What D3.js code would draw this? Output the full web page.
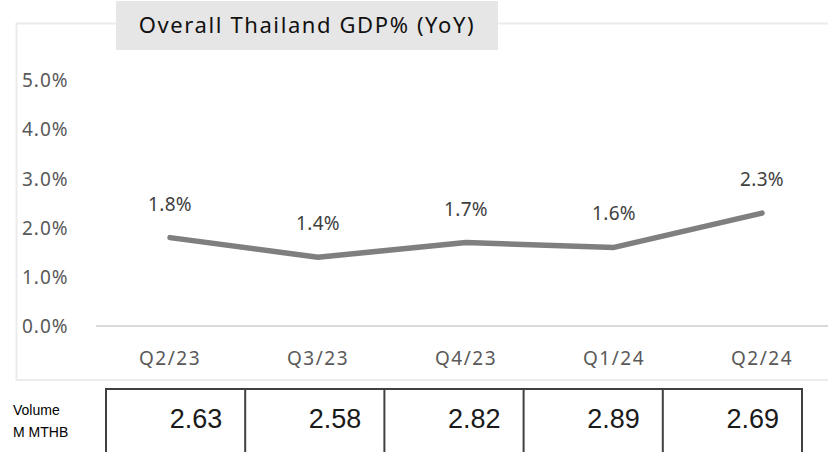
<!DOCTYPE html>
<html><head><meta charset="utf-8">
<script src="https://cdn.jsdelivr.net/npm/d3@7"></script>
<style>
html,body{margin:0;padding:0;background:#fff;}
svg{display:block;}
</style></head>
<body>
<svg id="chart" width="828" height="452"></svg>
<script>
const title = "Overall Thailand GDP% (YoY)";
const categories = ["Q2/23", "Q3/23", "Q4/23", "Q1/24", "Q2/24"];
const gdpValues = [1.8, 1.4, 1.7, 1.6, 2.3];
const yTicks = [0, 1, 2, 3, 4, 5];
const volumeValues = [2.63, 2.58, 2.82, 2.89, 2.69];
const volumeLabel = ["Volume", "M MTHB"];

const svg = d3.select("#chart");

// chart frame
svg.append("rect").attr("x", 16.5).attr("y", 23.5).attr("width", 830).attr("height", 356.5)
  .attr("fill", "none").attr("stroke", "#ebebeb").attr("stroke-width", 2);

// title box
svg.append("rect").attr("x", 116).attr("y", 1).attr("width", 382).attr("height", 49).attr("fill", "#e6e6e6");
svg.append("text").attr("x", 307).attr("y", 33).attr("text-anchor", "middle")
  .attr("font-family", "'Noto Sans', sans-serif").attr("font-size", 22).attr("letter-spacing", 1.6).attr("fill", "#111")
  .text(title);

const x = d3.scalePoint().domain(categories).range([96, 836]).padding(0.5);
const y = d3.scaleLinear().domain([0, 5]).range([326, 80.5]);

// y tick labels
svg.append("g").selectAll("text").data(yTicks).join("text")
  .attr("x", 22).attr("y", d => y(d)).attr("dy", "0.36em")
  .attr("font-family", "'Noto Sans', sans-serif").attr("font-size", 19).attr("letter-spacing", 1).attr("fill", "#595959")
  .text(d => d3.format(".1f")(d) + "%");

// baseline axis
svg.append("line").attr("x1", 96).attr("x2", 836).attr("y1", y(0)).attr("y2", y(0))
  .attr("stroke", "#d9d9d9").attr("stroke-width", 2);

// x axis labels
svg.append("g").selectAll("text").data(categories).join("text")
  .attr("x", d => x(d)).attr("y", 365).attr("text-anchor", "middle")
  .attr("font-family", "'Noto Sans', sans-serif").attr("font-size", 19).attr("letter-spacing", 1.5).attr("fill", "#595959")
  .text(d => d);

// line
const data = categories.map((c, i) => ({c, v: gdpValues[i]}));
svg.append("path").datum(data)
  .attr("d", d3.line().x(d => x(d.c)).y(d => y(d.v)))
  .attr("fill", "none").attr("stroke", "#7f7f7f").attr("stroke-width", 5.5)
  .attr("stroke-linecap", "round").attr("stroke-linejoin", "round");

// data labels
svg.append("g").selectAll("text").data(data).join("text")
  .attr("x", d => x(d.c)).attr("y", d => y(d.v) - 27).attr("text-anchor", "middle")
  .attr("font-family", "'Noto Sans', sans-serif").attr("font-size", 19).attr("letter-spacing", 0.3).attr("fill", "#404040")
  .text(d => d3.format(".1f")(d.v) + "%");

// volume table
const tx = d3.scaleBand().domain(categories).range([106, 802]).padding(0);
const tTop = 389, tBot = 460;
const tbl = svg.append("g");
tbl.append("line").attr("x1", tx.range()[0] - 1).attr("x2", tx.range()[1] + 1).attr("y1", tTop).attr("y2", tTop)
  .attr("stroke", "#404040").attr("stroke-width", 2);
const edges = categories.map(c => tx(c)).concat([tx.range()[1]]);
tbl.selectAll("line.v").data(edges).join("line").attr("class", "v")
  .attr("x1", d => d).attr("x2", d => d).attr("y1", tTop).attr("y2", tBot)
  .attr("stroke", "#404040").attr("stroke-width", 2);
tbl.selectAll("text.val").data(categories).join("text").attr("class", "val")
  .attr("x", d => tx(d) + tx.bandwidth() - 23).attr("y", 428).attr("text-anchor", "end")
  .attr("font-family", "'Liberation Sans', sans-serif").attr("font-size", 27).attr("fill", "#1a1a1a")
  .text((d, i) => d3.format(".2f")(volumeValues[i]));
tbl.selectAll("text.lab").data(volumeLabel).join("text").attr("class", "lab")
  .attr("x", 13).attr("y", (d, i) => 415 + i * 22)
  .attr("font-family", "'Liberation Sans', sans-serif").attr("font-size", 14).attr("fill", "#000")
  .text(d => d);
</script>
</body></html>
